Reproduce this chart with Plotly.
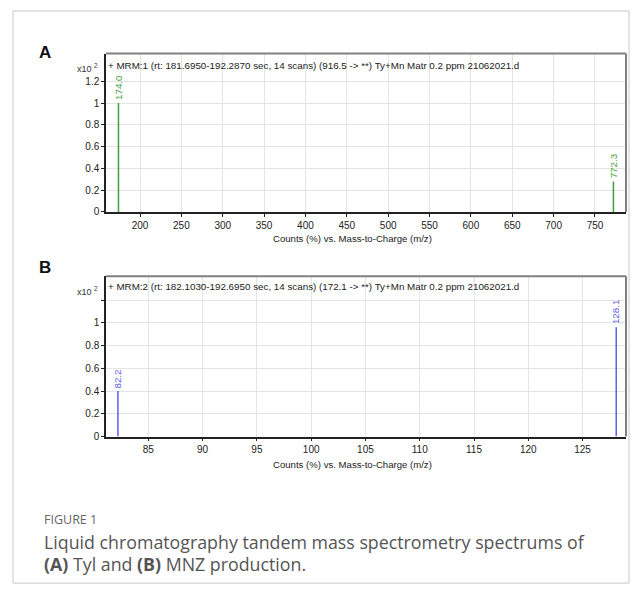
import plotly.graph_objects as go

# peak data
mz_a = [174.0, 772.3]
int_a = [1.0, 0.28]
lbl_a = ['174.0', '772.3']

mz_b = [82.2, 128.1]
int_b = [0.40, 0.96]
lbl_b = ['82.2', '128.1']

yticks = [0, 0.2, 0.4, 0.6, 0.8, 1.0, 1.2]
ytext_a = ['0', '0.2', '0.4', '0.6', '0.8', '1', '1.2']
ytext_b = ['0', '0.2', '0.4', '0.6', '0.8', '1', '']
xticks_a = list(range(200, 751, 50))
xticks_b = list(range(85, 126, 5))

hdr_a = '+ MRM:1 (rt: 181.6950-192.2870 sec, 14 scans) (916.5 -> **) Ty+Mn Matr 0.2 ppm 21062021.d'
hdr_b = '+ MRM:2 (rt: 182.1030-192.6950 sec, 14 scans) (172.1 -> **) Ty+Mn Matr 0.2 ppm 21062021.d'
xtitle = 'Counts (%) vs. Mass-to-Charge (m/z)'

GREEN = '#3f9f3f'
BLUE = '#5f5fe8'
FONT = 'Liberation Sans'
OFF = 8  # page body margin
W, H = 642 - OFF, 600 - OFF


def stems(xs, ys):
    sx, sy = [], []
    for x, y in zip(xs, ys):
        sx += [x, x, None]
        sy += [0, y, None]
    return sx, sy


def py(px):
    return 1 - (px - OFF) / H


def pxx(px):
    return (px - OFF) / W


fig = go.Figure()
sx, sy = stems(mz_a, int_a)
fig.add_scatter(x=sx, y=sy, mode='lines', line=dict(color=GREEN, width=1.5),
                xaxis='x', yaxis='y', showlegend=False, hoverinfo='skip')
sx, sy = stems(mz_b, int_b)
fig.add_scatter(x=sx, y=sy, mode='lines', line=dict(color=BLUE, width=1.5),
                xaxis='x2', yaxis='y2', showlegend=False, hoverinfo='skip')

axis_common = dict(showline=True, linecolor='#222', linewidth=1.5, ticks='outside',
                   ticklen=3, tickcolor='#222', showgrid=True, gridcolor='#e4e4e4',
                   gridwidth=1, zeroline=False, tickfont=dict(family=FONT, size=10, color='#222'))

left, right = pxx(106), pxx(626)
fig.update_layout(
    width=W, height=H, margin=dict(l=0, r=0, t=0, b=0),
    paper_bgcolor='white', plot_bgcolor='white',
    xaxis=dict(domain=[left, right], range=[158.9, 787.5], anchor='y',
               tickvals=xticks_a, **axis_common),
    yaxis=dict(domain=[py(214), py(54)], range=[0, 1.4545], anchor='x',
               tickvals=yticks, ticktext=ytext_a, **axis_common),
    xaxis2=dict(domain=[left, right], range=[81.1, 129.0], anchor='y2',
                tickvals=xticks_b, **axis_common),
    yaxis2=dict(domain=[py(441), py(279)], range=[0, 1.409], anchor='x2',
                tickvals=yticks, ticktext=ytext_b, **axis_common),
)

shapes = []
for xa, ya, cut in [('x', 'y', 0.88), ('x2', 'y2', 0.87)]:
    # white header strip hides gridlines behind the scan description
    shapes.append(dict(type='rect', xref=xa + ' domain', yref=ya + ' domain', x0=0, x1=1,
                       y0=cut, y1=1, fillcolor='white', line=dict(width=0), layer='below'))
    shapes.append(dict(type='line', xref=xa + ' domain', yref=ya + ' domain', x0=0, x1=1,
                       y0=1, y1=1, line=dict(color='#808080', width=2)))
    shapes.append(dict(type='line', xref=xa + ' domain', yref=ya + ' domain', x0=1, x1=1,
                       y0=0, y1=1, line=dict(color='#808080', width=2)))
# outer card border
shapes.append(dict(type='rect', xref='paper', yref='paper', x0=pxx(13), x1=pxx(629),
                   y0=py(589), y1=py(11), line=dict(color='#c8c8c8', width=1)))
fig.update_layout(shapes=shapes)

ann = []
for xs, ys, ls, col, xa, ya in [(mz_a, int_a, lbl_a, GREEN, 'x', 'y'),
                                (mz_b, int_b, lbl_b, BLUE, 'x2', 'y2')]:
    for x, y, t in zip(xs, ys, ls):
        ann.append(dict(x=x, y=y, xref=xa, yref=ya, text=t, textangle=-90, showarrow=False,
                        yanchor='bottom', xanchor='center', yshift=1,
                        font=dict(family=FONT, size=9.8, color=col)))

for hdr, yp in [(hdr_a, 66), (hdr_b, 289)]:
    ann.append(dict(x=pxx(106), y=py(yp), xref='paper', yref='paper', text=hdr,
                    showarrow=False, xanchor='left', yanchor='middle',
                    font=dict(family=FONT, size=9.8, color='#222')))

for yp in [69, 294]:
    ann.append(dict(x=pxx(100), y=py(yp), xref='paper', yref='paper', text='x10 <sup>2</sup>',
                    showarrow=False, xanchor='right', yanchor='middle',
                    font=dict(family=FONT, size=9, color='#333')))

for yp in [241, 469]:
    ann.append(dict(x=pxx(352), y=py(yp), xref='paper', yref='paper', text=xtitle,
                    showarrow=False, xanchor='center', yanchor='middle',
                    font=dict(family=FONT, size=9.6, color='#222')))

for lab, yp in [('A', 53), ('B', 270)]:
    ann.append(dict(x=pxx(37), y=py(yp), xref='paper', yref='paper', text='<b>%s</b>' % lab,
                    showarrow=False, xanchor='left', yanchor='middle',
                    font=dict(family=FONT, size=17, color='#111')))

ann.append(dict(x=pxx(42), y=py(525), xref='paper', yref='paper', text='FIGURE 1',
                showarrow=False, xanchor='left', yanchor='middle',
                font=dict(family='Open Sans', size=12.5, color='#666')))
ann.append(dict(x=pxx(42), y=py(547), xref='paper', yref='paper',
                text='Liquid chromatography tandem mass spectrometry spectrums of',
                showarrow=False, xanchor='left', yanchor='middle',
                font=dict(family='Open Sans', size=17.8, color='#555')))
ann.append(dict(x=pxx(42), y=py(570), xref='paper', yref='paper',
                text='<b>(A)</b> Tyl and <b>(B)</b> MNZ production.',
                showarrow=False, xanchor='left', yanchor='middle',
                font=dict(family='Open Sans', size=17.8, color='#555')))
fig.update_layout(annotations=ann)

fig.write_html('out.html')
